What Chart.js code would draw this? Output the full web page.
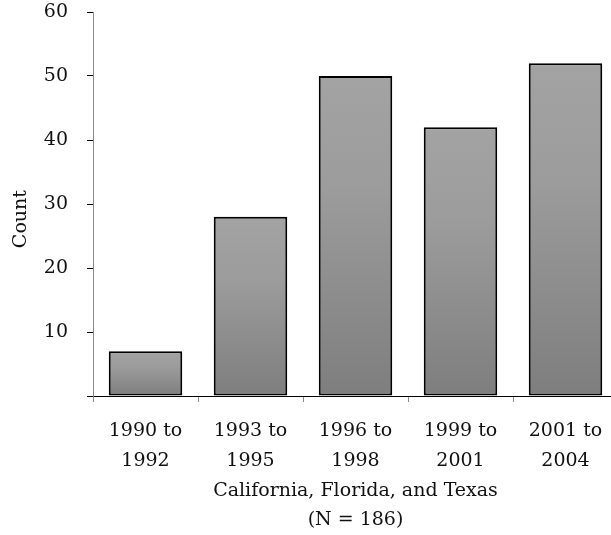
<!DOCTYPE html>
<html>
<head>
<meta charset="utf-8">
<script src="https://cdn.jsdelivr.net/npm/chart.js@4"></script>
<style>
  html, body { margin: 0; padding: 0; background: #fff; overflow: hidden; }
  #wrap { width: 618px; height: 535px; }
</style>
</head>
<body>
<div id="wrap"><canvas id="chart" width="618" height="535"></canvas></div>
<script>
/* Counts by period, three states combined */
const periods = [
  ["1990 to", "1992"],
  ["1993 to", "1995"],
  ["1996 to", "1998"],
  ["1999 to", "2001"],
  ["2001 to", "2004"]
];
const counts = [7, 28, 50, 42, 52];
const yTicks = { min: 0, max: 60, step: 10 };
const xTitle = ["California, Florida, and Texas", "(N = 186)"];
const yTitle = "Count";

const FONT = "'DejaVu Serif', 'Liberation Serif', serif";

// each bar gets its own top-to-bottom grey ramp
function barFill(ctx) {
  const chart = ctx.chart;
  const y = chart.scales.y;
  if (!chart.chartArea || !y || ctx.type !== "data") return "#909090";
  const top = y.getPixelForValue(ctx.raw);
  const base = y.getPixelForValue(0);
  const g = chart.ctx.createLinearGradient(0, top, 0, base);
  g.addColorStop(0, "#a3a3a3");
  g.addColorStop(0.35, "#9c9c9c");
  g.addColorStop(1, "#7e7e7e");
  return g;
}

new Chart(document.getElementById("chart"), {
  type: "bar",
  data: {
    labels: periods,
    datasets: [{
      data: counts,
      backgroundColor: barFill,
      borderColor: "#000",
      borderWidth: 2,
      borderSkipped: false,
      barPercentage: 0.7,
      categoryPercentage: 1
    }]
  },
  options: {
    responsive: false,
    animation: false,
    layout: { padding: { top: 12, left: 0, right: 0, bottom: 0 } },
    plugins: {
      legend: { display: false },
      tooltip: { enabled: false }
    },
    scales: {
      x: {
        afterFit: s => { s.height = 139; },
        border: { color: "#000", width: 1 },
        grid: { display: true, drawOnChartArea: false, offset: true, tickLength: 6, color: "#8a8a8a" },
        ticks: {
          color: "#111",
          padding: 14,
          maxRotation: 0,
          font: { family: FONT, size: 19, lineHeight: 1.58 }
        },
        title: {
          display: true,
          text: xTitle,
          color: "#111",
          padding: { top: 0, bottom: 0 },
          font: { family: FONT, size: 19, lineHeight: 1.55 }
        }
      },
      y: {
        min: yTicks.min,
        max: yTicks.max,
        // fixed width, and no extra room above the top label
        afterFit: s => { s.width = 93; s.paddingTop = 0; s.paddingBottom = 0; },
        border: { color: "#888", width: 1 },
        grid: { display: true, drawOnChartArea: false, tickLength: 6, color: "#000" },
        ticks: {
          stepSize: yTicks.step,
          color: "#111",
          padding: 19,
          font: { family: FONT, size: 19 },
          callback: v => (v === 0 ? "" : v)
        },
        title: {
          display: true,
          text: yTitle + "     ",
          color: "#111",
          padding: { top: 10, bottom: 0 },
          font: { family: FONT, size: 19 }
        }
      }
    }
  }
});
</script>
</body>
</html>
